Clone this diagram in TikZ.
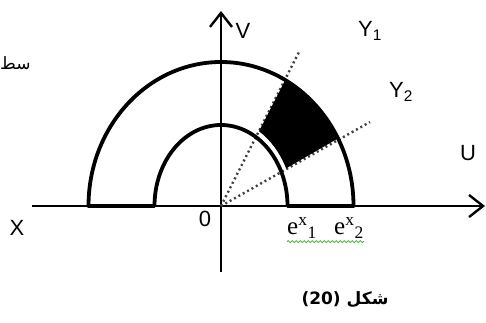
\documentclass[tikz,border=0pt]{standalone}
\usepackage{fontspec}
\setmainfont{Liberation Sans}
\newfontfamily\arabicfont[Script=Arabic]{DejaVu Sans}
\newfontfamily\expfont{Liberation Serif}
\TeXXeTstate=1
\usetikzlibrary{arrows.meta,positioning,decorations.pathmorphing}
\definecolor{spellgreen}{RGB}{70,170,60}

\begin{document}
\begin{tikzpicture}[x=1pt,y=1pt,
    axis/.style={line width=2pt,-{Straight Barb[length=14pt,width=22pt,line width=2.4pt]}},
    ring/.style={line width=3.8pt,line join=round},
    ray/.style={line width=2.4pt,dash pattern=on 2pt off 3pt,black!75},
    lbl/.style={inner sep=0pt,font=\fontsize{22}{24}\selectfont}]
  \useasboundingbox (0,0) rectangle (486,323);
  % axes
  \coordinate (O) at (221,117);
  \coordinate (xstart) at (32,117);
  \coordinate (uend) at (485,117);
  \coordinate (vbot) at (221,51);
  \coordinate (vtop) at (221,312);
  \draw[axis] (xstart) -- (uend);
  \draw[axis] (vbot) -- (vtop);
  % the two rays
  \coordinate (y1end) at (300,273);
  \coordinate (y2end) at (370,201);
  \draw[ray] (O) -- (y1end);
  \draw[ray] (O) -- (y2end);
  % black sector
  \fill[shift={(O)}] (61:132.5 and 144) arc[start angle=61,end angle=28,x radius=132.5,y radius=144]
    -- (25.3:72 and 88) arc[start angle=25.3,end angle=58.1,x radius=72,y radius=88] -- cycle;
  % half ring
  \draw[ring,shift={(O)}] (-132.5,0) arc[start angle=180,end angle=0,x radius=132.5,y radius=144]
    -- (66.5,0) arc[start angle=0,end angle=180,x radius=66.5,y radius=81] -- cycle;
  % labels
  \node[lbl] (vlab) at (243,292) {V};
  \node[lbl] (y1lab) at (370,292) {Y\textsubscript{1}};
  \node[lbl] (y2lab) at (401,231) {Y\textsubscript{2}};
  \node[lbl] (ulab) at (468,170) {U};
  \node[lbl] (xlab) at (17,95) {X};
  \node[lbl] (olab) at (205,104) {0};
  \node[lbl,font=\expfont\fontsize{25}{27}\selectfont] (e1) at (302,95) {e\textsuperscript{x}\textsubscript{1}};
  \node[lbl,font=\expfont\fontsize{25}{27}\selectfont] (e2) at (349,95) {e\textsuperscript{x}\textsubscript{2}};
  \draw[spellgreen,line width=0.8pt,decorate,decoration={snake,amplitude=1pt,segment length=4pt}]
    ([yshift=-3pt]e1.south west) -- ([yshift=-3pt]e2.south east);
  \node[lbl,anchor=west,font=\arabicfont\fontsize{17}{20}\selectfont] (surf) at (0,260) {\beginR سط\endR};
  \node[lbl,font=\arabicfont\bfseries\fontsize{17}{20}\selectfont] (cap) at (345,23) {\beginR شكل \beginL(20)\endL\endR};
\end{tikzpicture}
\end{document}
